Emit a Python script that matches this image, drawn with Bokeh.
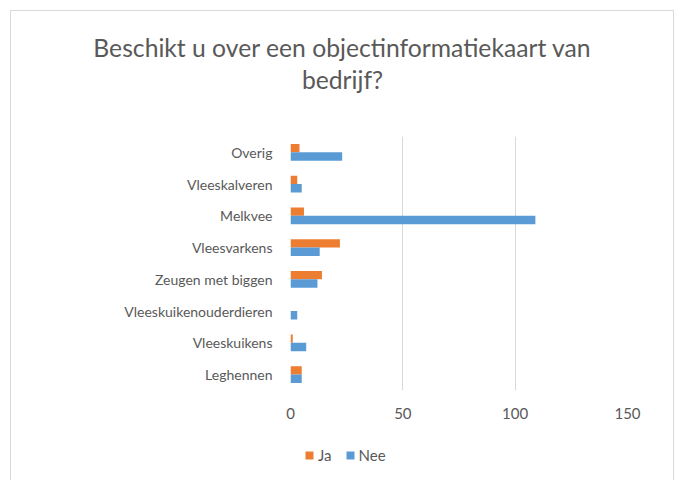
from bokeh.plotting import figure
from bokeh.layouts import column
from bokeh.models import Range1d, FactorRange, Legend, LegendItem, ColumnDataSource, FixedTicker
from bokeh.core.properties import value
from bokeh.transform import dodge
from bokeh.embed import file_html
from bokeh.resources import INLINE

# ---- data ----
categories = ["Leghennen", "Vleeskuikens", "Vleeskuikenouderdieren", "Zeugen met biggen",
              "Vleesvarkens", "Melkvee", "Vleeskalveren", "Overig"]
ja = [5, 1, 0, 14, 22, 6, 3, 4]
nee = [5, 7, 3, 12, 13, 109, 5, 23]
x_ticks = [0, 50, 100, 150]
title_lines = ["Beschikt u over een objectinformatiekaart van", "bedrijf?"]
series_names = ["Ja", "Nee"]

FONT = "Lato"
TXT = "#595959"
ORANGE = "#ED7D31"
BLUE = "#5B9BD5"
GRID = "#d9d9d9"

W = 662
TH = 125          # title strip height
MH = 294          # main chart height
LH = 50           # legend strip height


def bare(fig):
    fig.outline_line_color = None
    fig.background_fill_color = "white"
    fig.border_fill_color = "white"
    fig.grid.grid_line_color = None
    return fig


# ---- title strip (its frame spans the full width) ----
tf = bare(figure(width=W, height=TH, output_backend="svg", toolbar_location=None,
                 x_range=Range1d(0, W), y_range=Range1d(TH, 0),
                 x_axis_location=None, y_axis_location=None, min_border=0))
tf.frame_align = False
tf.text(x=[W / 2, W / 2], y=[36, 68], text=title_lines,
        text_align="center", text_baseline="alphabetic",
        text_font=value(FONT), text_font_size="24.7px", text_color=TXT)

# ---- main chart ----
mf = figure(width=W, height=MH, output_backend="svg", toolbar_location=None,
            y_range=FactorRange(*categories, range_padding=0),
            x_range=Range1d(0, 150),
            min_border_left=279, min_border_right=46,
            min_border_top=0, min_border_bottom=40)
bare(mf)

src = ColumnDataSource(dict(cat=categories, ja=ja, nee=nee))
r_ja = mf.hbar(y=dodge("cat", 0.135, range=mf.y_range), right="ja", left=0, height=0.265,
               source=src, fill_color=ORANGE, line_color=None)
r_nee = mf.hbar(y=dodge("cat", -0.13, range=mf.y_range), right="nee", left=0, height=0.265,
                source=src, fill_color=BLUE, line_color=None)

mf.xaxis.ticker = FixedTicker(ticks=x_ticks)
mf.xaxis.axis_line_color = None
mf.xaxis.major_tick_line_color = None
mf.xaxis.minor_tick_line_color = None
mf.xaxis.major_tick_out = 0
mf.xaxis.major_label_standoff = 17
mf.xaxis.major_label_text_font = FONT
mf.xaxis.major_label_text_font_size = "15px"
mf.xaxis.major_label_text_color = TXT

mf.yaxis.axis_line_color = None
mf.yaxis.major_tick_line_color = None
mf.yaxis.major_tick_out = 0
mf.yaxis.major_label_standoff = 18
mf.yaxis.major_label_text_font = FONT
mf.yaxis.major_label_text_font_size = "14px"
mf.yaxis.major_label_text_color = TXT

mf.xgrid.ticker = FixedTicker(ticks=x_ticks)
mf.xgrid.grid_line_color = GRID
mf.xgrid.grid_line_width = 1

# ---- legend strip (frame aligned with the main chart's frame) ----
lf = bare(figure(width=W, height=LH, output_backend="svg", toolbar_location=None,
                 x_range=Range1d(0, 1), y_range=Range1d(0, 1),
                 x_axis_location=None, y_axis_location=None, min_border=0))
# swatch renderers share the data but sit outside this strip's visible range
l_ja = lf.hbar(y=-5, right="ja", left=0, height=0.265, source=src,
               fill_color=ORANGE, line_color=None)
l_nee = lf.hbar(y=-5, right="nee", left=0, height=0.265, source=src,
                fill_color=BLUE, line_color=None)
legend = Legend(items=[LegendItem(label=series_names[0], renderers=[l_ja], index=0),
                       LegendItem(label=series_names[1], renderers=[l_nee], index=0)],
                orientation="horizontal", location=(14, 16),
                glyph_width=10, glyph_height=10, label_standoff=4, spacing=13,
                label_width=10, padding=0, margin=0,
                border_line_color=None, background_fill_alpha=0,
                label_text_font=FONT, label_text_font_size="15px", label_text_color=TXT)
lf.add_layout(legend, "center")

layout = column(tf, mf, lf, spacing=0)
layout.margin = (10, 0, 0, 10)
layout.styles = {"border-top": "1px solid #d9d9d9", "border-left": "1px solid #d9d9d9",
                 "border-right": "1px solid #d9d9d9"}

open("out.html", "w").write(file_html(layout, INLINE))
